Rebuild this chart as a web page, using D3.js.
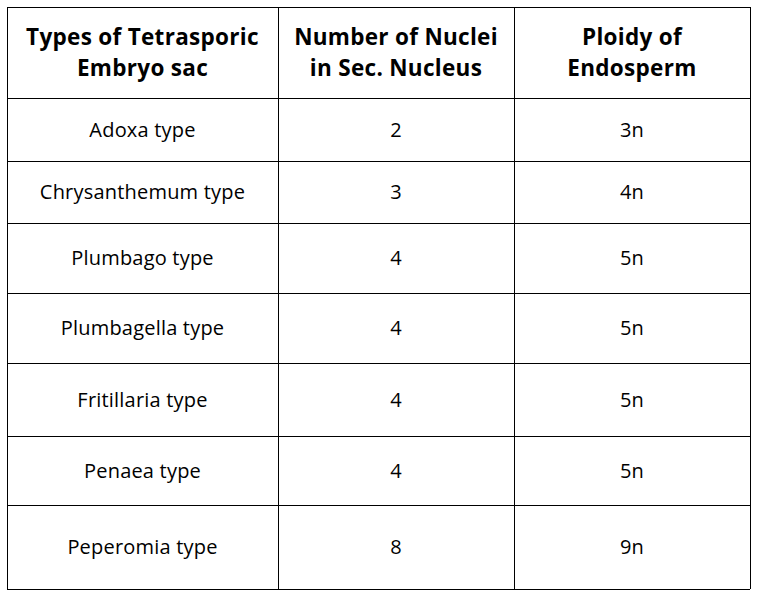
<!DOCTYPE html>
<html>
<head>
<meta charset="utf-8">
<script src="https://cdn.jsdelivr.net/npm/d3@7"></script>
<style>
  body { margin: 0; background: #fff; }
  text { font-family: "Open Sans", "Noto Sans", sans-serif; fill: #000; }
</style>
</head>
<body>
<svg id="chart" width="763" height="598"></svg>
<script>
const headers = [
  ["Types of Tetrasporic", "Embryo sac"],
  ["Number of Nuclei", "in Sec. Nucleus"],
  ["Ploidy of", "Endosperm"]
];
const types = ["Adoxa type", "Chrysanthemum type", "Plumbago type", "Plumbagella type",
  "Fritillaria type", "Penaea type", "Peperomia type"];
const nuclei = ["2", "3", "4", "4", "4", "4", "8"];
const ploidy = ["3n", "4n", "5n", "5n", "5n", "5n", "9n"];

// layout: column and row edges (pixels)
const colEdges = [7, 278, 514, 750];
const rowEdges = [7, 98, 161, 223, 293, 363, 436, 505, 589];

const svg = d3.select("#chart");
const rows = types.map((t, i) => [t, nuclei[i], ploidy[i]]);

const grid = svg.append("g").attr("stroke", "#000").attr("stroke-width", 1).attr("shape-rendering", "crispEdges");
grid.selectAll("line.h").data(rowEdges).join("line")
  .attr("x1", colEdges[0]).attr("x2", colEdges[3])
  .attr("y1", d => d + 0.5).attr("y2", d => d + 0.5);
grid.selectAll("line.v").data(colEdges).join("line")
  .attr("y1", rowEdges[0]).attr("y2", rowEdges[rowEdges.length - 1])
  .attr("x1", d => d + 0.5).attr("x2", d => d + 0.5);

const cx = i => (colEdges[i] + colEdges[i + 1]) / 2;
const cy = i => (rowEdges[i] + rowEdges[i + 1]) / 2;

// header
headers.forEach((lines, c) => {
  const t = svg.append("text").attr("text-anchor", "middle")
    .attr("font-size", 22.5).attr("font-weight", "bold").attr("letter-spacing", 0.3);
  lines.forEach((l, k) => {
    t.append("tspan").attr("x", cx(c)).attr("y", cy(0) + (k - 0.5) * 31 + 8).text(l);
  });
});

// body
rows.forEach((r, i) => {
  svg.selectAll(null).data(r).enter().append("text")
    .attr("text-anchor", "middle").attr("font-size", 20).attr("letter-spacing", 0.2)
    .attr("x", (d, c) => cx(c)).attr("y", cy(i + 1) + 7)
    .text(d => d);
});
</script>
</body>
</html>
